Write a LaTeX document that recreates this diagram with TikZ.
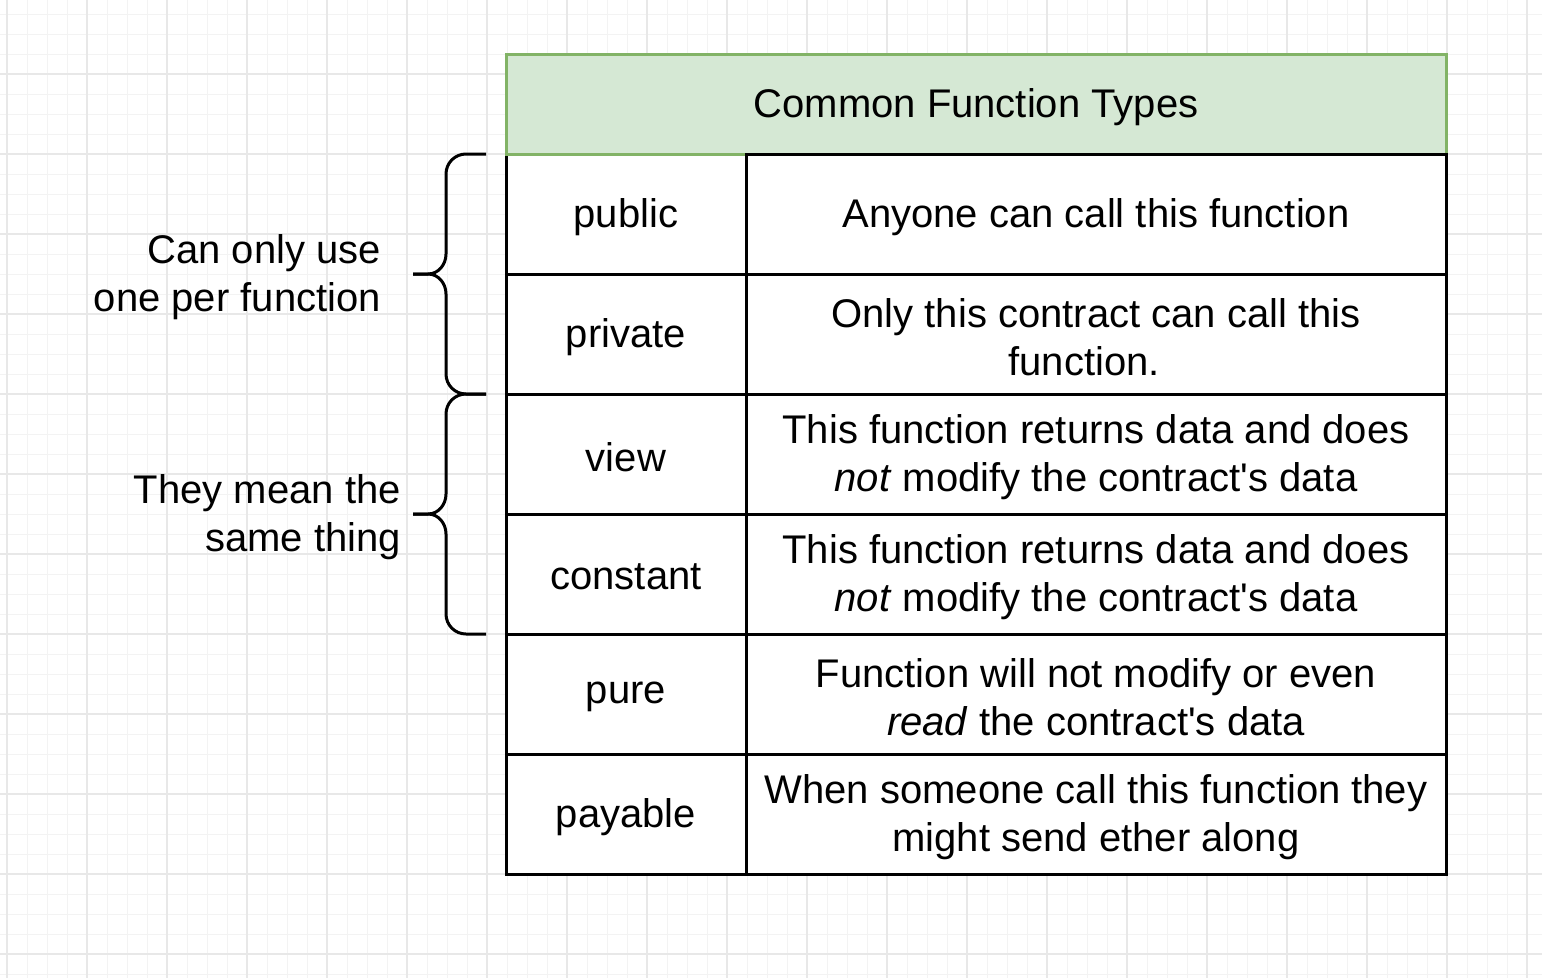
\documentclass[tikz,border=0pt]{standalone}
\usepackage{fontspec}
\setmainfont{Liberation Sans}
\definecolor{gridminor}{HTML}{F3F3F3}
\definecolor{gridmajor}{HTML}{E8E8E8}
\definecolor{hdrfill}{HTML}{D5E8D4}
\definecolor{hdrline}{HTML}{82B366}
\newcommand{\apos}{\textquotesingle}
\tikzset{
  cellbox/.style={draw=black, line width=3pt, fill=white, rectangle, inner sep=0pt},
  leftcell/.style={cellbox, minimum width=240pt, minimum height=120pt},
  rightcell/.style={cellbox, minimum width=700pt, minimum height=120pt},
  hdrbox/.style={cellbox, draw=hdrline, fill=hdrfill, minimum width=940pt, minimum height=100pt},
  celltext/.style={align=center, inner sep=0pt, font=\fontsize{40}{48}\selectfont, yshift=-3pt},
  sidelabel/.style={align=right, inner sep=0pt, font=\fontsize{40}{48}\selectfont, anchor=east},
  bracestyle/.style={draw=black, line width=3pt, line join=round}
}
\begin{document}
\begin{tikzpicture}[x=1pt, y=-1pt]
\useasboundingbox (0,0) rectangle (1542,978);
\fill[white] (0,0) rectangle (1542,978);
% grid
\foreach \x in {7,27,...,1541} \draw[gridminor, line width=1pt] (\x,0) -- (\x,978);
\foreach \y in {14,34,...,977} \draw[gridminor, line width=1pt] (0,\y) -- (1542,\y);
\foreach \x in {7,87,...,1541} \draw[gridmajor, line width=1.5pt] (\x,0) -- (\x,978);
\foreach \y in {74,154,...,977} \draw[gridmajor, line width=1.5pt] (0,\y) -- (1542,\y);
% left column cells
\node[leftcell] (l1) at (626,214) {};
\node[leftcell] (l2) at (626,334) {};
\node[leftcell] (l3) at (626,454) {};
\node[leftcell] (l4) at (626,574) {};
\node[leftcell] (l5) at (626,694) {};
\node[leftcell] (l6) at (626,814) {};
% header
\node[hdrbox] (hdr) at (976,104) {};
% right column cells
\node[rightcell] (r1) at (1096,214) {};
\node[rightcell] (r2) at (1096,334) {};
\node[rightcell] (r3) at (1096,454) {};
\node[rightcell] (r4) at (1096,574) {};
\node[rightcell] (r5) at (1096,694) {};
\node[rightcell] (r6) at (1096,814) {};
% texts
\node[celltext] (hdrt) at (hdr.center) {Common Function Types};
\node[celltext] (l1t) at (l1.center) {public};
\node[celltext] (l2t) at (l2.center) {private};
\node[celltext] (l3t) at (l3.center) {view};
\node[celltext] (l4t) at (l4.center) {constant};
\node[celltext] (l5t) at (l5.center) {pure};
\node[celltext] (l6t) at (l6.center) {payable};
\node[celltext] (r1t) at (r1.center) {Anyone can call this function};
\node[celltext] (r2t) at (r2.center) {Only this contract can call this\\function.\hspace*{24pt}};
\node[celltext] (r3t) at (r3.center) {This function returns data and does\\\textit{not} modify the contract\apos s data};
\node[celltext] (r4t) at (r4.center) {This function returns data and does\\\textit{not} modify the contract\apos s data};
\node[celltext] (r5t) at (r5.center) {Function will not modify or even\\\textit{read} the contract\apos s data};
\node[celltext] (r6t) at (r6.center) {When someone call this function they\\might send ether along};
% braces
\coordinate (b1top) at (486,154);
\coordinate (b1tip) at (413,274);
\coordinate (b1bot) at (486,394);
\coordinate (b2top) at (486,394);
\coordinate (b2tip) at (413,514);
\coordinate (b2bot) at (486,634);
\draw[bracestyle] (b1top) -- (466,154) to[out=180,in=90] (446,174) -- (446,254)
  to[out=-90,in=0] (428,274) -- (b1tip);
\draw[bracestyle] (b1tip) -- (428,274) to[out=0,in=90] (446,294) -- (446,374)
  to[out=-90,in=180] (466,394) -- (b1bot);
\draw[bracestyle] (b2top) -- (466,394) to[out=180,in=90] (446,414) -- (446,494)
  to[out=-90,in=0] (428,514) -- (b2tip);
\draw[bracestyle] (b2tip) -- (428,514) to[out=0,in=90] (446,534) -- (446,614)
  to[out=-90,in=180] (466,634) -- (b2bot);
% side labels
\node[sidelabel] (t1) at (381,277) {Can only use\\one per function};
\node[sidelabel] (t2) at (401,517) {They mean the\\same thing};
\end{tikzpicture}
\end{document}
